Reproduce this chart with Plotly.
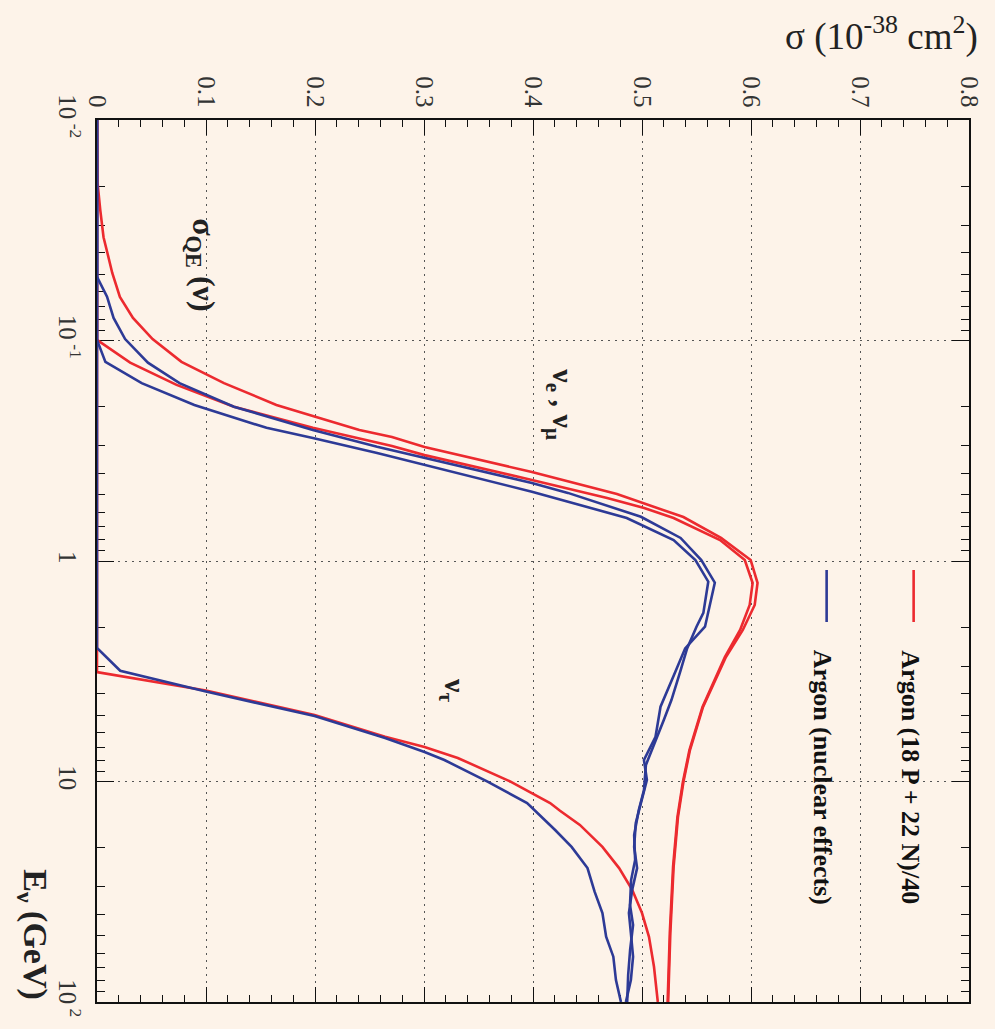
import plotly.graph_objects as go

# Quasi-elastic CC cross sections on argon, sigma in 1e-38 cm^2 vs neutrino energy in GeV

# Free-nucleon argon (18 P + 22 N)/40
E_nue_free = [0.01, 0.0193, 0.0256, 0.034, 0.040, 0.0494, 0.0635, 0.079, 0.0985, 0.125, 0.156,
              0.196, 0.220, 0.2546, 0.274, 0.304, 0.395, 0.497, 0.632, 0.786, 0.99, 1.258,
              1.583, 2.055, 2.725, 4.59, 7.2, 10.05, 14.5, 24.4, 48.7, 100.0]
sig_nue_free = [0.0, 0.0005, 0.003, 0.006, 0.0095, 0.014, 0.021, 0.033, 0.051, 0.0775, 0.1165,
                0.1646, 0.198, 0.2407, 0.2706, 0.3005, 0.399, 0.477, 0.538, 0.5725, 0.5997, 0.606,
                0.6034, 0.5925, 0.577, 0.556, 0.544, 0.538, 0.533, 0.529, 0.526, 0.524]

E_numu_free = [0.01, 0.0994, 0.126, 0.159, 0.1996, 0.249, 0.301, 0.331, 0.429, 0.518, 0.575,
               0.638, 0.803, 0.99, 1.258, 1.583, 2.055, 2.725, 4.59, 7.2, 10.05, 14.5, 24.4,
               48.7, 100.0]
sig_numu_free = [0.0, 0.0, 0.0304, 0.073, 0.1256, 0.198, 0.2706, 0.3005, 0.399, 0.468, 0.502,
                 0.529, 0.5716, 0.5943, 0.6015, 0.5988, 0.590, 0.576, 0.5555, 0.5435, 0.5375,
                 0.5325, 0.5285, 0.5255, 0.5235]

E_nutau_free = [0.01, 3.19, 3.87, 4.99, 6.26, 6.98, 7.82, 10.02, 12.52, 13.57, 15.74, 19.8,
                24.7, 31.0, 39.5, 50.6, 69.2, 100.0]
sig_nutau_free = [0.0, 0.0, 0.0999, 0.1996, 0.2643, 0.3005, 0.331, 0.3794, 0.4157, 0.4248,
                  0.443, 0.4637, 0.479, 0.491, 0.500, 0.5064, 0.511, 0.5145]

# Argon with nuclear effects
E_nue_nucl = [0.01, 0.0514, 0.0633, 0.079, 0.0985, 0.126, 0.156, 0.1996, 0.2546, 0.303, 0.443,
              0.491, 0.630, 0.786, 0.99, 1.254, 1.986, 2.49, 3.18, 4.27, 4.58, 6.27, 7.99, 9.84,
              12.13, 15.4, 19.8, 24.7, 31.0, 39.5, 48.7, 62.3, 79.5, 100.0]
sig_nue_nucl = [0.0, 0.0, 0.0092, 0.0152, 0.0258, 0.0467, 0.0757, 0.1256, 0.198, 0.257, 0.399,
                0.432, 0.499, 0.5354, 0.5544, 0.5668, 0.5578, 0.5396, 0.5306, 0.520, 0.517,
                0.5124, 0.5018, 0.5045, 0.500, 0.4943, 0.4928, 0.4955, 0.491, 0.488, 0.4898,
                0.4918, 0.4898, 0.4852]

E_numu_nucl = [0.01, 0.0994, 0.125, 0.156, 0.196, 0.249, 0.277, 0.3236, 0.485, 0.538, 0.638,
               0.803, 0.99, 1.241, 1.72, 1.986, 2.49, 3.18, 4.27, 5.26, 6.83, 8.41, 10.93, 13.5,
               17.5, 22.7, 28.0, 36.3, 44.8, 58.1, 75.4, 100.0]
sig_numu_nucl = [0.0, 0.0, 0.0077, 0.041, 0.0893, 0.1555, 0.198, 0.257, 0.399, 0.432, 0.486,
                 0.529, 0.549, 0.5608, 0.5563, 0.550, 0.5414, 0.535, 0.527, 0.520, 0.5111,
                 0.5036, 0.5018, 0.497, 0.4928, 0.4937, 0.490, 0.489, 0.4918, 0.4891, 0.4873,
                 0.4864]

E_nutau_nucl = [0.01, 2.48, 3.145, 3.91, 5.05, 6.35, 7.35, 7.99, 10.02, 12.52, 16.6, 19.8, 24.7,
                31.6, 39.5, 50.6, 62.3, 79.5, 100.0]
sig_nutau_nucl = [0.0, 0.0, 0.0213, 0.0999, 0.1996, 0.2643, 0.3005, 0.3187, 0.3583, 0.3946,
                  0.4203, 0.4354, 0.450, 0.4565, 0.4637, 0.4671, 0.4737, 0.4761, 0.4807]

# Axis ticks
sigma_ticks = [0.0, 0.1, 0.2, 0.3, 0.4, 0.5, 0.6, 0.7, 0.8]
sigma_ticktext = ["0", "0.1", "0.2", "0.3", "0.4", "0.5", "0.6", "0.7", "0.8"]
energy_ticks = [0.01, 0.1, 1, 10, 100]
energy_ticktext = ["10<sup> -2</sup>", "10<sup> -1</sup>", "1", "10", "10<sup> 2</sup>"]

RED = "#ec2a2f"
BLUE = "#2d3a96"
BG = "#fdf3e9"
SERIF = "Liberation Serif"
TICK_FONT = dict(family=SERIF, size=25, color="#333333")

# plot area in pixels
L, R, T, B = 97, 979, 120, 1002
W, H = R - L, B - T


def fx(px):
    return (px - L) / W


def fy(py):
    return (B - py) / H


fig = go.Figure()

for E, s, c in [
    (E_nue_free, sig_nue_free, RED),
    (E_numu_free, sig_numu_free, RED),
    (E_nutau_free, sig_nutau_free, RED),
    (E_nue_nucl, sig_nue_nucl, BLUE),
    (E_numu_nucl, sig_numu_nucl, BLUE),
    (E_nutau_nucl, sig_nutau_nucl, BLUE),
]:
    fig.add_trace(go.Scatter(x=s, y=E, mode="lines", cliponaxis=False,
                             line=dict(color=c, width=2.6), showlegend=False,
                             hoverinfo="skip"))

minor_sigma = [round(0.02 * k, 2) for k in range(41) if k % 5 != 0]
minor_energy = [m * 10 ** d for d in range(-2, 2) for m in range(2, 10)]

xaxis = dict(
    range=[0, 0.8], side="top", tickmode="array", tickvals=sigma_ticks,
    ticktext=sigma_ticktext, tickangle=90, ticks="inside", ticklen=15, tickwidth=1,
    tickcolor="#111", mirror="allticks", showline=True, linecolor="#111", linewidth=1.5,
    showgrid=True, gridcolor="#555", griddash="2px,5px", gridwidth=1, zeroline=False,
    layer="below traces", ticklabelstandoff=2, tickfont=TICK_FONT,
    minor=dict(tickmode="array", tickvals=minor_sigma, ticks="inside", ticklen=7,
               tickcolor="#111", showgrid=False),
)
yaxis = dict(
    type="log", range=[2, -2], tickmode="array", tickvals=energy_ticks,
    ticktext=energy_ticktext, tickangle=90, ticks="inside", ticklen=17, tickwidth=1,
    tickcolor="#111", mirror="allticks", showline=True, linecolor="#111", linewidth=1.5,
    showgrid=True, gridcolor="#555", griddash="2px,5px", gridwidth=1, zeroline=False,
    layer="below traces", ticklabelstandoff=6, tickfont=TICK_FONT,
    minor=dict(tickmode="array", tickvals=minor_energy, ticks="inside", ticklen=8,
               tickcolor="#111", showgrid=False),
)

annotations = [
    dict(text="σ (10<sup>-38</sup> cm<sup>2</sup>)", x=fx(990), y=fy(34), xanchor="right",
         yanchor="middle", font=dict(family=SERIF, size=37, color="#222")),
    dict(text="E<sub>ν</sub> (GeV)", x=fx(32), y=fy(935), textangle=90,
         xanchor="center", yanchor="middle",
         font=dict(family=SERIF, size=34, color="#222", weight="bold")),
    dict(text="σ<sub>QE</sub> (ν)", x=fx(203), y=fy(265), textangle=90,
         xanchor="center", yanchor="middle",
         font=dict(family=SERIF, size=32, color="#222", weight="bold")),
    dict(text="ν<sub>e</sub> , ν<sub>μ</sub>", x=fx(566), y=fy(404), textangle=90,
         xanchor="center", yanchor="middle",
         font=dict(family=SERIF, size=30, color="#222", weight="bold")),
    dict(text="ν<sub>τ</sub>", x=fx(457), y=fy(690), textangle=90,
         xanchor="center", yanchor="middle",
         font=dict(family=SERIF, size=30, color="#222", weight="bold")),
    dict(text="Argon (18 P + 22 N)/40", x=fx(920), y=fy(648), textangle=90,
         xanchor="center", yanchor="top",
         font=dict(family=SERIF, size=26, color="#111", weight="bold")),
    dict(text="Argon (nuclear effects)", x=fx(831), y=fy(648), textangle=90,
         xanchor="center", yanchor="top",
         font=dict(family=SERIF, size=26, color="#111", weight="bold")),
]
for a in annotations:
    a.update(xref="paper", yref="paper", showarrow=False)

shapes = [
    dict(type="line", xref="paper", yref="paper", x0=fx(923), x1=fx(923), y0=fy(570),
         y1=fy(622), line=dict(color=RED, width=2.6)),
    dict(type="line", xref="paper", yref="paper", x0=fx(835), x1=fx(835), y0=fy(570),
         y1=fy(622), line=dict(color=BLUE, width=2.6)),
]

fig.update_layout(
    width=995, height=1029,
    margin=dict(l=L, r=995 - R, t=T, b=1029 - B),
    font=dict(family=SERIF, size=25, color="#333333"),
    xaxis=xaxis, yaxis=yaxis,
    paper_bgcolor=BG, plot_bgcolor=BG,
    annotations=annotations, shapes=shapes,
    showlegend=False,
)

fig.write_html("out.html")
